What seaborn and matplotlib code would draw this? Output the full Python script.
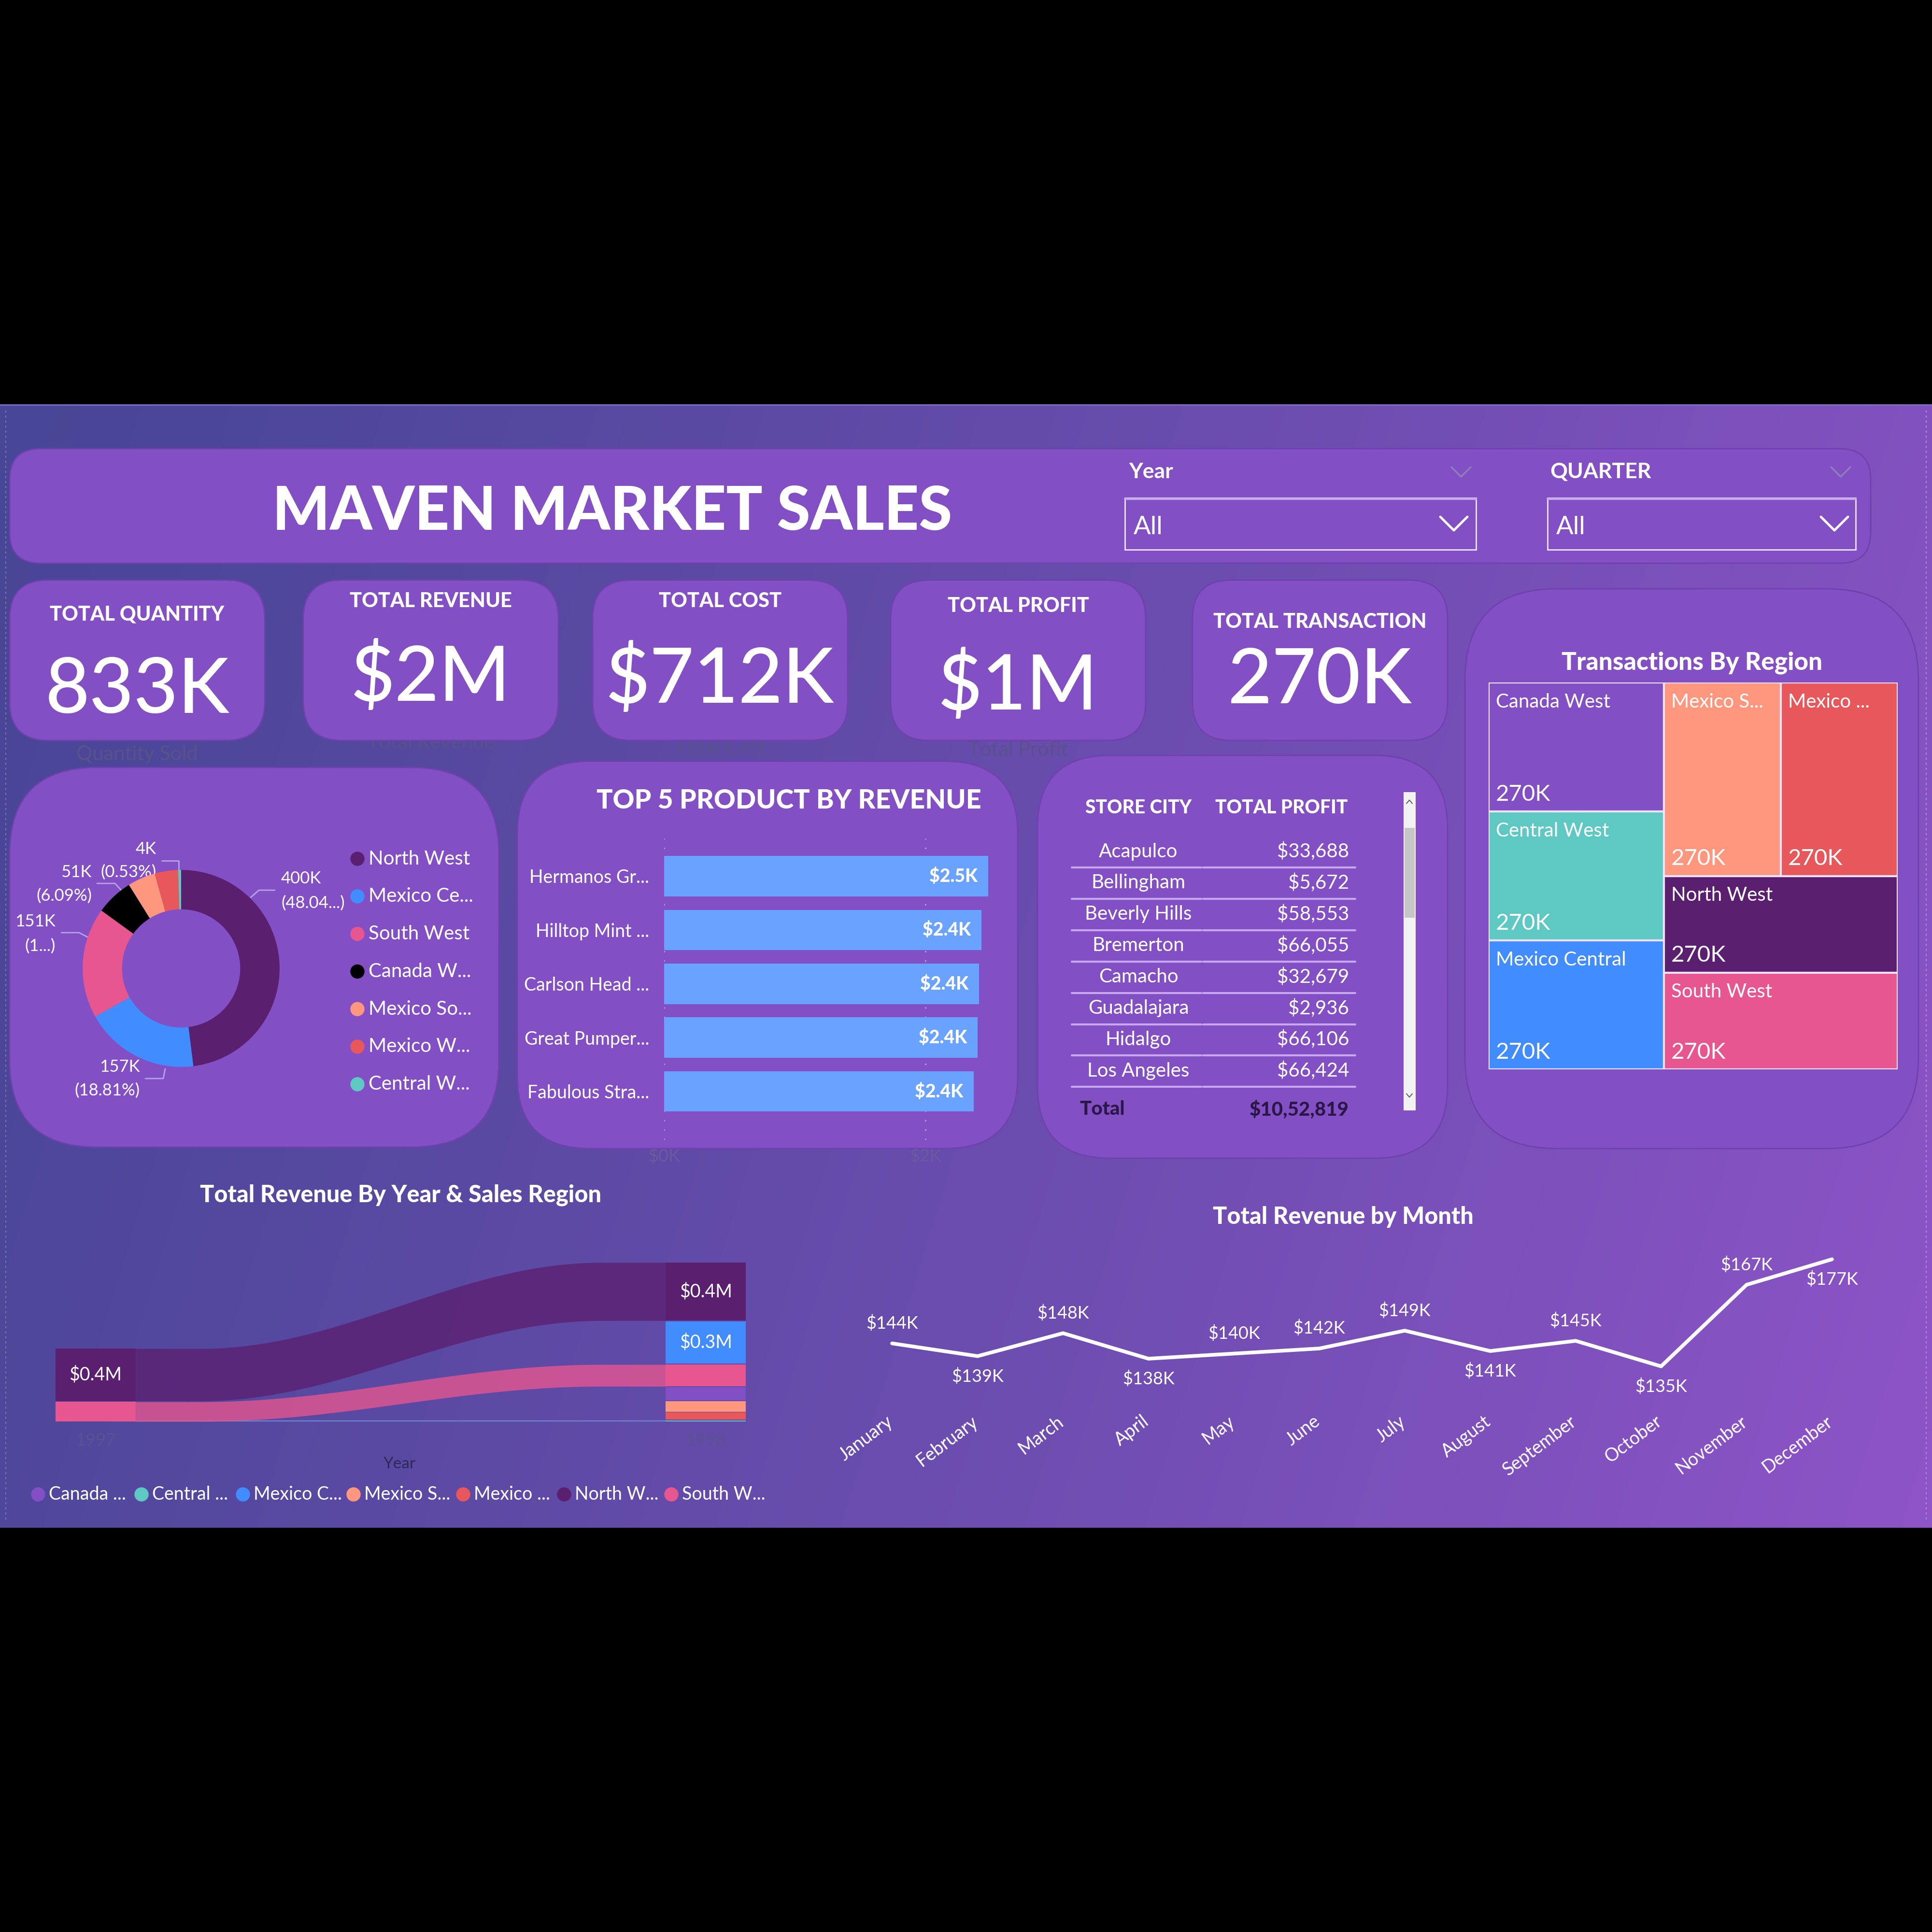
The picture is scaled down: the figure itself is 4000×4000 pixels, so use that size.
import numpy as np
import pandas as pd
import matplotlib
matplotlib.use("Agg")
import matplotlib.pyplot as plt
import matplotlib.transforms as mtrans
import seaborn as sns
from matplotlib.patches import FancyBboxPatch, Rectangle, Circle

# ------------------------------------------------------------------ data
kpi_titles = ["TOTAL QUANTITY", "TOTAL REVENUE", "TOTAL COST", "TOTAL PROFIT", "TOTAL TRANSACTION"]
kpi_values = ["833K", "$2M", "$712K", "$1M", "270K"]
kpi_captions = ["Quantity Sold", "Total Revenue", "Total Cost", "Total Profit", ""]

donut_regions = ["North West", "Mexico Central", "South West", "Canada West",
                 "Mexico South", "Mexico West", "Central West"]
donut_legend = ["North West", "Mexico Ce...", "South West", "Canada W...",
                "Mexico So...", "Mexico W...", "Central W..."]
donut_qty_k = [400, 157, 151, 51, 38, 32, 4]
donut_pct_text = ["(48.04...)", "(18.81%)", "(1...)", "(6.09%)", "", "", "(0.53%)"]

top5_products = ["Hermanos Gr...", "Hilltop Mint ...", "Carlson Head ...",
                 "Great Pumper...", "Fabulous Stra..."]
top5_revenue_k = [2.48, 2.43, 2.41, 2.40, 2.37]

table_cities = ["Acapulco", "Bellingham", "Beverly Hills", "Bremerton",
                "Camacho", "Guadalajara", "Hidalgo", "Los Angeles"]
table_profit = [33688, 5672, 58553, 66055, 32679, 2936, 66106, 66424]
table_total = "$10,52,819"

tree_regions = ["Canada West", "Central West", "Mexico Central", "Mexico South",
                "Mexico West", "North West", "South West"]
tree_labels = ["Canada West", "Central West", "Mexico Central", "Mexico S...",
               "Mexico ...", "North West", "South West"]
tree_values_k = [270, 270, 270, 270, 270, 270, 270]

ribbon_years = ["1997", "1998"]
ribbon_regions = ["Canada West", "Central West", "Mexico Central", "Mexico South",
                  "Mexico West", "North West", "South West"]
ribbon_legend = ["Canada ...", "Central ...", "Mexico C...", "Mexico S...",
                 "Mexico ...", "North W...", "South W..."]
rev_1997_m = [0.0, 0.0, 0.0, 0.0, 0.0, 0.36, 0.135]
rev_1998_m = [0.09, 0.008, 0.29, 0.072, 0.048, 0.40, 0.15]

months = ["January", "February", "March", "April", "May", "June", "July",
          "August", "September", "October", "November", "December"]
month_rev_k = [144, 139, 148, 138, 140, 142, 149, 141, 145, 135, 167, 177]

# ------------------------------------------------------------------ style
sns.set_theme(style="white")
plt.rcParams["font.family"] = ["Lato", "DejaVu Sans"]

CARD = "#8250C4"
CARD_EDGE = "#7041ad"
WHITE = "white"
DARK_TXT = "#57538a"
TITLE_W = "black"
region_colors = {
    "North West": "#5B1F70",
    "Mexico Central": "#418CFF",
    "South West": "#E8568F",
    "Canada West": "#8250C4",
    "Mexico South": "#FF977E",
    "Mexico West": "#E8575A",
    "Central West": "#5EC8C2",
}
donut_colors = dict(region_colors)
donut_colors["Canada West"] = "#000000"

W = H = 4000
fig = plt.figure(figsize=(40, 40), dpi=100, facecolor="black")
bg = fig.add_axes([0, 0, 1, 1])
bg.axis("off")

# gradient background of the dashboard
gx = np.linspace(0, 1, 400)
gy = np.linspace(0, 1, 120)
GX, GY = np.meshgrid(gx, gy)
t = np.clip(0.85 * GX + 0.15 * GY, 0, 1) ** 1.15
c0 = np.array([72, 70, 150]) / 255
c1 = np.array([142, 84, 200]) / 255
img = c0[None, None, :] * (1 - t[..., None]) + c1[None, None, :] * t[..., None]
bg.imshow(img, extent=(0, W, 3163, 837), aspect="auto", zorder=0, interpolation="bilinear")
bg.set_xlim(0, W)
bg.set_ylim(H, 0)
bg.plot([0, W], [838, 838], color="#7d6fc4", lw=2, zorder=1)
bg.plot([12, 12], [850, 3150], color="#7a78a8", lw=1.5, ls=(0, (2, 3)), zorder=1)
bg.plot([3988, 3988], [850, 3150], color="#a993d6", lw=1.5, ls=(0, (2, 3)), zorder=1)


def card(x0, y0, x1, y1, r, z=2, fc=CARD, ec=CARD_EDGE, lw=2):
    p = FancyBboxPatch((x0, y0), x1 - x0, y1 - y0,
                       boxstyle=f"round,pad=0,rounding_size={r}",
                       fc=fc, ec=ec, lw=lw, zorder=z)
    bg.add_patch(p)


def px_axes(x0, y0, x1, y1):
    a = fig.add_axes([x0 / W, 1 - y1 / H, (x1 - x0) / W, (y1 - y0) / H])
    a.set_facecolor("none")
    return a


def chevron(cx, cy, w, h, color, lw):
    bg.plot([cx - w / 2, cx, cx + w / 2], [cy - h / 2, cy + h / 2, cy - h / 2],
            color=color, lw=lw, zorder=5, solid_capstyle="round")


# ------------------------------------------------------------------ header
card(20, 929, 3873, 1166, 64)
bg.text(1268, 1060, "MAVEN MARKET SALES", ha="center", va="center", color=WHITE,
        fontsize=90, fontweight=TITLE_W, zorder=5)

for lab, lx, bx0, bx1, chx, schx in [("Year", 2337, 2329, 3056, 3010, 3025),
                                      ("QUARTER", 3209, 3204, 3842, 3798, 3811)]:
    bg.text(lx, 977, lab, ha="left", va="center", color=WHITE, fontsize=32,
            fontweight="bold", zorder=5)
    chevron(schx, 977, 40, 20, "#8d7fb8", 2.5)
    bg.add_patch(Rectangle((bx0, 1031), bx1 - bx0, 107, fc="none", ec="#efe6ff",
                           lw=2, zorder=5))
    bg.plot([bx0, bx1], [1033, 1033], color="#c7a9f3", lw=3, zorder=5)
    bg.text(bx0 + 18, 1092, "All", ha="left", va="center", color=WHITE,
            fontsize=38, zorder=5)
    chevron(chx, 1084, 56, 28, WHITE, 3.5)

# ------------------------------------------------------------------ KPI cards
kpi_boxes = [(20, 548), (628, 1156), (1227, 1755), (1844, 2372), (2469, 2997)]
kpi_title_y = [1273, 1245, 1245, 1255, 1288]
kpi_value_y = [1431, 1403, 1408, 1421, 1411]
kpi_caption_y = [1562, 1538, 1548, 1553, 0]
for (x0, x1), ttl, val, cap, ty, vy, cy in zip(kpi_boxes, kpi_titles, kpi_values,
                                                kpi_captions, kpi_title_y, kpi_value_y,
                                                kpi_caption_y):
    cxm = (x0 + x1) / 2
    if cap:
        bg.text(cxm, cy, cap, ha="center", va="center", color=DARK_TXT,
                fontsize=30, zorder=1.5)
    card(x0, 1201, x1, 1533, 80)
    bg.text(cxm, ty, ttl, ha="center", va="center", color=WHITE, fontsize=30,
            fontweight=TITLE_W, zorder=5)
    bg.text(cxm, vy, val, ha="center", va="center", color=WHITE, fontsize=114,
            fontweight="medium", zorder=5)

# ------------------------------------------------------------------ section cards
card(20, 1589, 1033, 2375, 180)
card(1071, 1576, 2107, 2378, 150)
card(2148, 1564, 2997, 2398, 150)
card(3033, 1219, 3972, 2378, 190)

# ------------------------------------------------------------------ donut
dax = px_axes(115, 1745, 635, 2265)
dax.pie(donut_qty_k, colors=[donut_colors[r] for r in donut_regions], radius=1,
        startangle=90, counterclock=False,
        wedgeprops=dict(width=0.40, linewidth=0))
dax.set_xlim(-1.275, 1.275)
dax.set_ylim(-1.275, 1.275)
dax.set_aspect("equal")
dax.axis("off")

# labels (positions in dashboard pixels) : (index, x, y_value, y_pct, ha, leader)
donut_label_layout = [
    (0, 582, 1819, 1870, "left", [(519, 1858), (536, 1843), (569, 1843)]),
    (1, 290, 2209, 2258, "right", [(301, 2233), (338, 2233), (342, 2213)]),
    (2, 115, 1908, 1959, "right", [(127, 1931), (164, 1931), (181, 1940)]),
    (3, 190, 1806, 1855, "right", [(201, 1829), (238, 1829), (251, 1843)]),
    (6, 324, 1758, 1806, "right", [(335, 1782), (370, 1782), (370, 1804)]),
]
for idx, lx, ly1, ly2, ha, leader in donut_label_layout:
    bg.text(lx, ly1, f"{donut_qty_k[idx]}K", ha=ha, va="center", color=WHITE,
            fontsize=25, zorder=5)
    bg.text(lx, ly2, donut_pct_text[idx], ha=ha, va="center", color=WHITE,
            fontsize=25, zorder=5)
    xs, ys = zip(*leader)
    bg.plot(xs, ys, color="#b7a3e3", lw=2, zorder=5)

for i, (reg, lab) in enumerate(zip(donut_regions, donut_legend)):
    y = 1778 + i * 77.8
    bg.add_patch(Circle((740, y), 14, color=donut_colors[reg], zorder=5))
    bg.text(763, y, lab, ha="left", va="center", color=WHITE, fontsize=29, zorder=5)

# ------------------------------------------------------------------ top 5 bar
bg.text(1633, 1658, "TOP 5 PRODUCT BY REVENUE", ha="center", va="center",
        color=WHITE, fontsize=40, fontweight=TITLE_W, zorder=5)
bax = px_axes(1375, 1736, 2078, 2360)
df_top = pd.DataFrame({"product": top5_products, "revenue": top5_revenue_k})
sns.barplot(data=df_top, y="product", x="revenue", orient="h", color="#6AA2FF",
            saturation=1, width=0.75, ax=bax, zorder=3, edgecolor="none", linewidth=0)
bax.set_xlim(0, 2.6)
bax.set_ylim(4.9, -0.7)
for xv in [0, 2]:
    bax.axvline(xv, color="#b8a6e6", lw=2, ls=(0, (1, 6)), zorder=1)
for i, v in enumerate(top5_revenue_k):
    bax.text(v - 0.08, i, f"${v:.1f}K", ha="right", va="center", color=WHITE,
             fontsize=27, fontweight=TITLE_W, zorder=5)
bax.set_xticks([0, 2])
bax.set_xticklabels(["$0K", "$2K"], color="#6a5b9e", fontsize=26)
bax.tick_params(axis="x", length=0, pad=12)
bax.tick_params(axis="y", length=0, pad=22, labelsize=27, labelcolor=WHITE)
bax.set_xlabel("")
bax.set_ylabel("")
for s in bax.spines.values():
    s.set_visible(False)

# ------------------------------------------------------------------ table
bg.text(2357, 1673, "STORE CITY", ha="center", va="center", color=WHITE,
        fontsize=28, fontweight=TITLE_W, zorder=5)
bg.text(2653, 1673, "TOTAL PROFIT", ha="center", va="center", color=WHITE,
        fontsize=28, fontweight=TITLE_W, zorder=5)
for i, (city, prof) in enumerate(zip(table_cities, table_profit)):
    y = 1763 + i * 64.9
    bg.text(2357, y, city, ha="center", va="center", color=WHITE, fontsize=29, zorder=5)
    bg.text(2793, y, f"${prof:,}", ha="right", va="center", color=WHITE,
            fontsize=29, zorder=5)
    bg.plot([2219, 2487], [y + 33, y + 33], color="#c9a6f2", lw=3, zorder=5)
    bg.plot([2491, 2806], [y + 33, y + 33], color="#c9a6f2", lw=3, zorder=5)
bg.text(2235, 2297, "Total", ha="left", va="center", color="#2a1745", fontsize=29,
        fontweight=TITLE_W, zorder=5)
bg.text(2793, 2297, table_total, ha="right", va="center", color="#2a1745",
        fontsize=29, fontweight=TITLE_W, zorder=5)
bg.add_patch(Rectangle((2906, 1640), 25, 659, fc="#f2f2f2", ec="none", zorder=5))
bg.add_patch(Rectangle((2908, 1714), 21, 186, fc="#c6c6c6", ec="none", zorder=6))
chevron(2918, 1660, 12, -7, "#666666", 1.5)
chevron(2918, 2268, 12, 7, "#666666", 1.5)

# ------------------------------------------------------------------ treemap
bg.text(3503, 1372, "Transactions By Region", ha="center", va="center",
        color=WHITE, fontsize=37, fontweight=TITLE_W, zorder=5)
tax = px_axes(3082, 1413, 3929, 2214)
tax.set_xlim(0, 1)
tax.set_ylim(1, 0)
tax.axis("off")
vals = np.array(tree_values_k, dtype=float)
tot = vals.sum()
rects = []
# column 1 : first three regions stacked
w1 = vals[:3].sum() / tot
yy = 0.0
for v in vals[:3]:
    h = v / vals[:3].sum()
    rects.append((0.0, yy, w1, h))
    yy += h
# column 2 : a row of two, then two full-width rows
rest = vals[3:]
hr = rest[:2].sum() / rest.sum()
xx = w1
for v in rest[:2]:
    w = (1 - w1) * v / rest[:2].sum()
    rects.append((xx, 0.0, w, hr))
    xx += w
yy = hr
for v in rest[2:]:
    h = v / rest.sum()
    rects.append((w1, yy, 1 - w1, h))
    yy += h
for (x, y, w, h), reg, lab, v in zip(rects, tree_regions, tree_labels, tree_values_k):
    tax.add_patch(Rectangle((x, y), w, h, fc=region_colors[reg], ec="#efe3fb", lw=3))
    tax.text(x + 0.018, y + 0.027, lab, ha="left", va="top", color=WHITE, fontsize=29)
    tax.text(x + 0.018, y + h - 0.018, f"{v}K", ha="left", va="bottom", color=WHITE,
             fontsize=34)

# ------------------------------------------------------------------ ribbon chart
bg.text(829, 2474, "Total Revenue By Year & Sales Region", ha="center", va="center",
        color=WHITE, fontsize=35, fontweight=TITLE_W, zorder=5)
rax = px_axes(115, 2600, 1544, 2943)
rax.set_xlim(0, 1)
rax.set_ylim(0, 1.14)
rax.axis("off")
bw = 0.116
gap = 0.006
year_x = [0.0, 1 - bw]
stacks = []
for yi, vals_y in enumerate([rev_1997_m, rev_1998_m]):
    order = np.argsort(vals_y)  # ascending: smallest at bottom
    bottom = 0.0
    pos = {}
    for k in order:
        v = vals_y[k]
        if v <= 0:
            continue
        pos[k] = (bottom, bottom + v)
        rax.bar(year_x[yi], v, width=bw, bottom=bottom, align="edge",
                color=region_colors[ribbon_regions[k]], linewidth=0, zorder=3)
        if v >= 0.25:
            rax.text(year_x[yi] + bw / 2, bottom + v / 2, f"${v:.1f}M", ha="center",
                     va="center", color=WHITE, fontsize=27, zorder=5)
        bottom += v + gap
    stacks.append(pos)
rax.plot([bw, 1 - bw], [0.002, 0.002], color="#6e86d6", lw=2.5, zorder=2)
tt = np.linspace(0, 1, 200)
ss = np.clip((tt - 0.12) / 0.76, 0, 1)
ss = 0.5 - 0.5 * np.cos(np.pi * ss)
xr = bw + tt * (1 - 2 * bw)
for k in stacks[0]:
    if k in stacks[1]:
        lo0, hi0 = stacks[0][k]
        lo1, hi1 = stacks[1][k]
        rax.fill_between(xr, lo0 + ss * (lo1 - lo0), hi0 + ss * (hi1 - hi0),
                         color=region_colors[ribbon_regions[k]], alpha=0.78,
                         linewidth=0, zorder=2)
for yi, yl in enumerate(ribbon_years):
    rax.text(year_x[yi] + bw / 2, -0.13, yl, ha="center", va="center",
             color="#5a5390", fontsize=26)
bg.text(827, 3031, "Year", ha="center", va="center", color="#2e2a55", fontsize=24,
        zorder=5)
leg_x = [79, 293, 503, 732, 959, 1168, 1390]
for x, reg, lab in zip(leg_x, ribbon_regions, ribbon_legend):
    bg.add_patch(Circle((x, 3094), 14, color=region_colors[reg], zorder=5))
    bg.text(x + 22, 3094, lab, ha="left", va="center", color=WHITE, fontsize=27,
            zorder=5)

# ------------------------------------------------------------------ monthly line
bg.text(2781, 2520, "Total Revenue by Month", ha="center", va="center",
        color=WHITE, fontsize=35, fontweight=TITLE_W, zorder=5)
lax = px_axes(1794, 2565, 3846, 2908)
df_m = pd.DataFrame({"m": np.arange(len(months)), "rev": month_rev_k})
sns.lineplot(data=df_m, x="m", y="rev", color=WHITE, lw=5.5, ax=lax)
lax.set_xlim(-0.3, 11.3)
lax.set_ylim(120, 185)
label_side = [1, -1, 1, -1, 1, 1, 1, -1, 1, -1, 1, -1]
for i, (v, sd) in enumerate(zip(month_rev_k, label_side)):
    lax.annotate(f"${v}K", (i, v), xytext=(0, 30 * sd), textcoords="offset points",
                 ha="center", va="center", color=WHITE, fontsize=26)
lax.set_xticks(np.arange(len(months)))
lax.set_xticklabels(months, rotation=37, ha="right", rotation_mode="anchor",
                    color=WHITE, fontsize=27)
lax.tick_params(axis="x", length=0, pad=12)
shift = mtrans.ScaledTranslation(-14 / 100, 0, fig.dpi_scale_trans)
for lbl in lax.get_xticklabels():
    lbl.set_transform(lbl.get_transform() + shift)
lax.set_yticks([])
lax.set_xlabel("")
lax.set_ylabel("")
for s in lax.spines.values():
    s.set_visible(False)

fig.savefig("out.png", dpi=100, facecolor="black")
